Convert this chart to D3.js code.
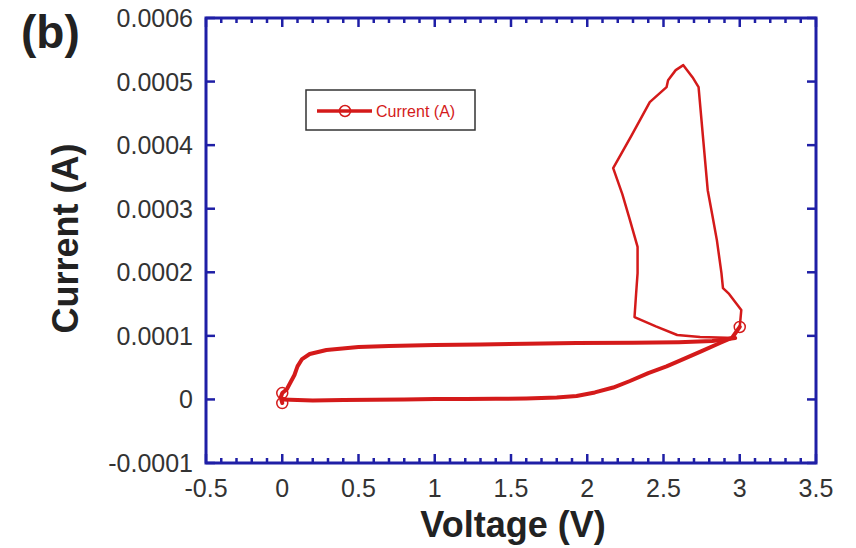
<!DOCTYPE html>
<html>
<head>
<meta charset="utf-8">
<script src="https://cdn.jsdelivr.net/npm/d3@7"></script>
<style>
  html, body { margin: 0; padding: 0; background: #fff; }
  svg { display: block; font-family: "Liberation Sans", Arial, sans-serif; }
</style>
</head>
<body>
<svg id="chart" width="856" height="548"></svg>
<script>
// I–V sweep of the device: voltage (V) and current (A), in acquisition order.
const voltage = [
  0.00, 0.10, 0.20, 0.40, 0.60, 0.80, 1.00, 1.20, 1.40, 1.60, 1.80, 1.93, 2.05, 2.17, 2.28, 2.40, 2.52, 2.63, 2.75, 2.87, 2.95,
  3.00, 3.01, 2.98, 2.96, 2.93, 2.89, 2.88, 2.85, 2.82, 2.79, 2.76, 2.73, 2.69, 2.63, 2.58, 2.53, 2.52, 2.41, 2.29, 2.17,
  2.23, 2.28, 2.33, 2.33, 2.32, 2.31, 2.45, 2.59, 2.74, 2.97,
  2.82, 2.60, 2.30, 1.93, 1.60, 1.30, 1.00, 0.70, 0.50, 0.29, 0.18, 0.13, 0.10, 0.08, 0.05, 0.03, 0.00, -0.01, 0.00
];
const current = [
  0.0000000, -0.0000010, -0.0000015, -0.0000010, -0.0000005, 0.0000000, 0.0000005, 0.0000005, 0.0000010, 0.0000015, 0.0000030, 0.0000053, 0.0000110, 0.0000187, 0.0000290, 0.0000415, 0.0000520, 0.0000635, 0.0000760, 0.0000887, 0.0000970,
  0.0001140, 0.0001406, 0.0001500, 0.0001563, 0.0001660, 0.0001752, 0.0001987, 0.0002506, 0.0002900, 0.0003292, 0.0004100, 0.0004912, 0.0005069, 0.0005258, 0.0005180, 0.0005022, 0.0004912, 0.0004676, 0.0004150, 0.0003638,
  0.0003230, 0.0002821, 0.0002400, 0.0001987, 0.0001650, 0.0001296, 0.0001150, 0.0001013, 0.0000981, 0.0000965,
  0.0000918, 0.0000900, 0.0000890, 0.0000887, 0.0000875, 0.0000865, 0.0000855, 0.0000840, 0.0000825, 0.0000777, 0.0000714, 0.0000635, 0.0000520, 0.0000384, 0.0000250, 0.0000160, 0.0000100, 0.0000030, -0.0000057
];
// Points carrying the series symbol
const markerIndex = [21, 67, 69];

const xTicks = [-0.5, 0, 0.5, 1, 1.5, 2, 2.5, 3, 3.5];
const xTickLabels = ["-0.5", "0", "0.5", "1", "1.5", "2", "2.5", "3", "3.5"];
const yTicks = [-0.0001, 0, 0.0001, 0.0002, 0.0003, 0.0004, 0.0005, 0.0006];
const yTickLabels = ["-0.0001", "0", "0.0001", "0.0002", "0.0003", "0.0004", "0.0005", "0.0006"];
const seriesName = "Current (A)";

const svg = d3.select("#chart");
const plotL = 206, plotR = 816, plotT = 18, plotB = 463;
const axisColor = "#1f1fa6";
const lineColor = "#d41a1a";

const x = d3.scaleLinear().domain([-0.5, 3.5]).range([plotL, plotR]);
const y = d3.scaleLinear().domain([-0.0001, 0.0006]).range([plotB, plotT]);

// Minor x ticks every 0.1 V
const xMinor = d3.range(-0.5, 3.5001, 0.1).map(v => +v.toFixed(2))
  .filter(v => !xTicks.some(t => Math.abs(t - v) < 1e-9));

// Frame ticks, pointing inward on all four sides
const tickG = svg.append("g").attr("stroke", axisColor).attr("stroke-width", 2.5);
xTicks.forEach(t => {
  tickG.append("line").attr("x1", x(t)).attr("x2", x(t)).attr("y1", plotB).attr("y2", plotB - 9);
  tickG.append("line").attr("x1", x(t)).attr("x2", x(t)).attr("y1", plotT).attr("y2", plotT + 9);
});
xMinor.forEach(t => {
  tickG.append("line").attr("x1", x(t)).attr("x2", x(t)).attr("y1", plotB).attr("y2", plotB - 5);
  tickG.append("line").attr("x1", x(t)).attr("x2", x(t)).attr("y1", plotT).attr("y2", plotT + 5);
});
yTicks.forEach(t => {
  tickG.append("line").attr("y1", y(t)).attr("y2", y(t)).attr("x1", plotL).attr("x2", plotL + 9);
  tickG.append("line").attr("y1", y(t)).attr("y2", y(t)).attr("x1", plotR).attr("x2", plotR - 9);
});

// Frame
svg.append("rect")
  .attr("x", plotL).attr("y", plotT)
  .attr("width", plotR - plotL).attr("height", plotB - plotT)
  .attr("fill", "none").attr("stroke", axisColor).attr("stroke-width", 3);

// Tick labels
svg.append("g").selectAll("text").data(xTicks).join("text")
  .attr("x", d => x(d)).attr("y", plotB + 34)
  .attr("text-anchor", "middle")
  .attr("font-size", 25).attr("fill", "#333")
  .text((d, i) => xTickLabels[i]);

svg.append("g").selectAll("text").data(yTicks).join("text")
  .attr("x", plotL - 13).attr("y", d => y(d) + 9)
  .attr("text-anchor", "end")
  .attr("font-size", 25).attr("fill", "#333")
  .text((d, i) => yTickLabels[i]);

// Axis titles
svg.append("text")
  .attr("x", (plotL + plotR) / 2 + 2).attr("y", 537)
  .attr("text-anchor", "middle")
  .attr("font-size", 36).attr("font-weight", "bold").attr("fill", "#222")
  .text("Voltage (V)");

svg.append("text")
  .attr("transform", `translate(78, ${(plotT + plotB) / 2 - 2}) rotate(-90)`)
  .attr("text-anchor", "middle")
  .attr("font-size", 36).attr("font-weight", "bold").attr("fill", "#222")
  .text("Current (A)");

// Panel label
svg.append("text")
  .attr("x", 21).attr("y", 48)
  .attr("font-size", 46).attr("font-weight", "bold").attr("fill", "#222")
  .text("(b)");

// The I–V trace: the low-field loop is drawn heavier than the high-current excursion
const pts = voltage.map((v, i) => [v, current[i]]);
const line = d3.line().x(d => x(d[0])).y(d => y(d[1]));
const segments = [
  { from: 0, to: 21, width: 4 },
  { from: 21, to: 50, width: 2.5 },
  { from: 50, to: pts.length - 1, width: 4 }
];

svg.append("g").selectAll("path").data(segments).join("path")
  .attr("d", s => line(pts.slice(s.from, s.to + 1)))
  .attr("fill", "none")
  .attr("stroke", lineColor)
  .attr("stroke-width", s => s.width)
  .attr("stroke-linejoin", "round")
  .attr("stroke-linecap", "round");

svg.append("g").selectAll("circle").data(markerIndex).join("circle")
  .attr("cx", i => x(voltage[i])).attr("cy", i => y(current[i]))
  .attr("r", 5.5)
  .attr("fill", "none").attr("stroke", lineColor).attr("stroke-width", 1.5);

// Legend
const lg = svg.append("g");
lg.append("rect")
  .attr("x", 306).attr("y", 90).attr("width", 169).attr("height", 40)
  .attr("fill", "#fff").attr("stroke", "#333").attr("stroke-width", 1.5);
lg.append("line")
  .attr("x1", 317).attr("x2", 372).attr("y1", 111).attr("y2", 111)
  .attr("stroke", lineColor).attr("stroke-width", 3.5);
lg.append("circle")
  .attr("cx", 345).attr("cy", 111).attr("r", 5.5)
  .attr("fill", "none").attr("stroke", lineColor).attr("stroke-width", 1.5);
lg.append("text")
  .attr("x", 376).attr("y", 117)
  .attr("font-size", 16).attr("fill", lineColor)
  .text(seriesName);
</script>
</body>
</html>
